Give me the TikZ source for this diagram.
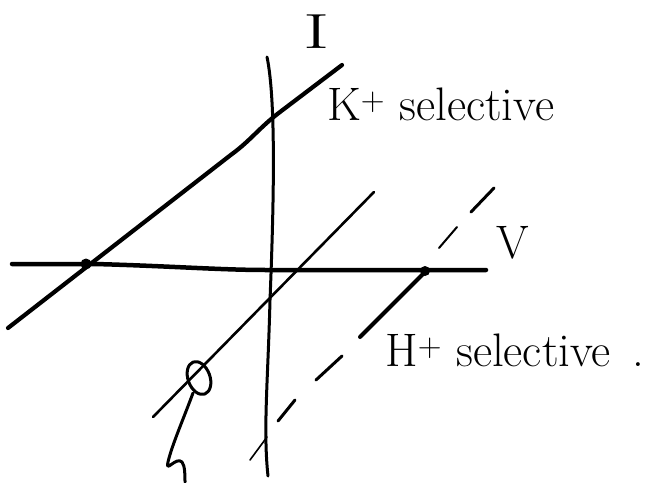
\documentclass[tikz,border=0pt]{standalone}
\usepackage{graphicx}
\begin{document}
\begin{tikzpicture}[x=1pt,y=-1pt,line cap=round,line join=round,
  haxis/.style={line width=4.5pt},
  vaxis/.style={line width=3pt},
  kline/.style={line width=4.2pt},
  mline/.style={line width=2.6pt},
  hdash/.style={line width=3pt},
  dotmark/.style={circle,fill=black,inner sep=0pt,minimum size=11pt},
  lbl/.style={font=\fontsize{47}{52}\selectfont,inner sep=0pt}]
\useasboundingbox (0,0) rectangle (647,482);
% axes
\coordinate (vtop) at (267,57);
\coordinate (vbot) at (268,476);
\draw[vaxis] (vtop) .. controls (276,100) and (274,200) .. (270,300)
   .. controls (268,380) and (263,430) .. (vbot);
\coordinate (hleft) at (12,264);
\coordinate (hright) at (486,270);
\draw[haxis] (hleft) -- (95,264) .. controls (170,266) and (220,270) .. (267,270) -- (hright);
% K+ selective line
\coordinate (kbot) at (8,328);
\coordinate (ktop) at (342,65);
\draw[kline] (kbot) -- (232,154) .. controls (250,141) and (260,127) .. (280,112) -- (ktop);
\node[dotmark] (kdot) at (86,264) {};
% middle line
\coordinate (mbot) at (153,417);
\coordinate (mtop) at (374,192);
\draw[mline] (mbot) -- (mtop);
\coordinate (loopc) at (199,378);
\draw[line width=3pt,rotate around={20:(loopc)}] (loopc) ellipse [x radius=11,y radius=17];
\coordinate (tail0) at (193,393);
\coordinate (tail1) at (185,482);
\draw[line width=3pt] (tail0) .. controls (183,420) and (172,445) .. (168,462)
   .. controls (165,474) and (176,456) .. (182,462)
   .. controls (185,466) and (185,475) .. (tail1);
% H+ selective dashed line
\coordinate (a1) at (250,460); \coordinate (b1) at (267,437);
\coordinate (a2) at (278,421); \coordinate (b2) at (295,400);
\coordinate (a3) at (316,380); \coordinate (b3) at (342,356);
\coordinate (a4) at (360,337); \coordinate (b4) at (426,271);
\coordinate (a5) at (439,248); \coordinate (b5) at (457,227);
\coordinate (a6) at (471,212); \coordinate (b6) at (494,188);
\draw[line width=1.6pt] (a1) -- (b1);
\draw[hdash] (a2) -- (b2);
\draw[hdash] (a3) -- (b3);
\draw[line width=4pt] (a4) -- (b4);
\draw[line width=2pt] (a5) -- (b5);
\draw[hdash] (a6) -- (b6);
\node[dotmark,minimum size=10pt] (hdot) at (425,271) {};
% labels
\node[lbl] (ilbl) at (317,32) {\scalebox{1.7}[1.05]{I}};
\node[lbl] (vlbl) at (513,243) {V};
\node[lbl,anchor=base west] (klbl) at (327,120) {K\textsuperscript{+} selective};
\node[lbl,anchor=base west] (hlbl) at (385,366) {H\textsuperscript{+} selective\hspace{0.45em}.};
\end{tikzpicture}
\end{document}
